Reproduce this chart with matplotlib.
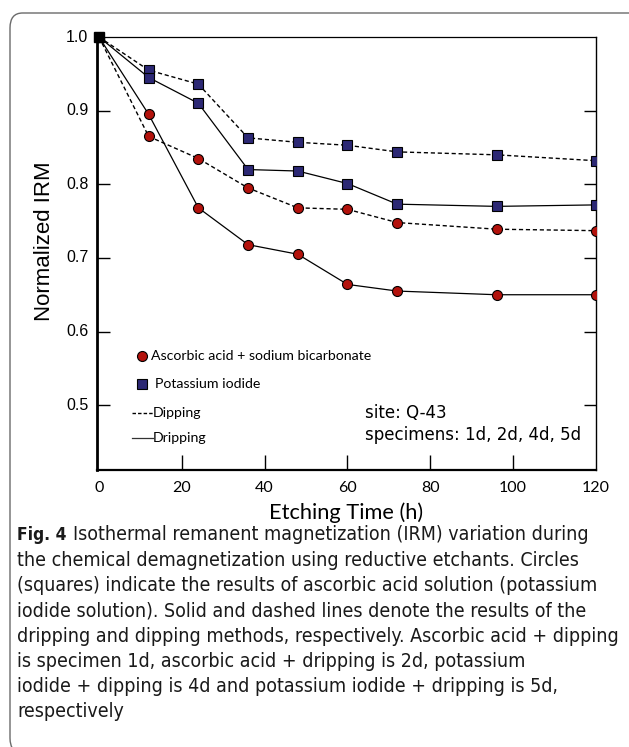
import matplotlib
matplotlib.use('Agg')
import matplotlib.pyplot as plt
from matplotlib.patches import FancyBboxPatch

# etching times (h)
times = [0, 12, 24, 36, 48, 60, 72, 96, 120]
# normalized IRM per specimen
asc_dip = [1.0, 0.865, 0.835, 0.795, 0.768, 0.766, 0.748, 0.739, 0.737]   # 1d
asc_drip = [1.0, 0.895, 0.768, 0.718, 0.705, 0.664, 0.655, 0.650, 0.650]  # 2d
ki_dip = [1.0, 0.955, 0.936, 0.863, 0.857, 0.853, 0.844, 0.840, 0.832]    # 4d
ki_drip = [1.0, 0.945, 0.910, 0.820, 0.818, 0.801, 0.773, 0.770, 0.772]   # 5d

xticks = [0, 20, 40, 60, 80, 100, 120]
yticks = [0.5, 0.6, 0.7, 0.8, 0.9, 1.0]

caption = [
    "the chemical demagnetization using reductive etchants. Circles",
    "(squares) indicate the results of ascorbic acid solution (potassium",
    "iodide solution). Solid and dashed lines denote the results of the",
    "dripping and dipping methods, respectively. Ascorbic acid + dipping",
    "is specimen 1d, ascorbic acid + dripping is 2d, potassium",
    "iodide + dipping is 4d and potassium iodide + dripping is 5d,",
    "respectively",
]

RED = '#B3120C'
NAVY = '#2C2874'
W, H = 629, 747

fig = plt.figure(figsize=(W / 100, H / 100), dpi=100)
ax = fig.add_axes([97.3 / W, 1 - 470 / H, (596 - 97.3) / W, (470 - 37) / H])

dash = (0, (3, 2))
ax.plot(times, ki_dip, linestyle=dash, color='black', lw=1.0, marker='s', ms=6.8,
        mfc=NAVY, mec='black', mew=0.8, zorder=3)
ax.plot(times, ki_drip, linestyle='-', color='black', lw=0.9, marker='s', ms=6.8,
        mfc=NAVY, mec='black', mew=0.8, zorder=3)
ax.plot(times, asc_dip, linestyle=dash, color='black', lw=1.0, marker='o', ms=7.2,
        mfc=RED, mec='black', mew=0.8, zorder=3)
ax.plot(times, asc_drip, linestyle='-', color='black', lw=0.9, marker='o', ms=7.2,
        mfc=RED, mec='black', mew=0.8, zorder=3)
# common starting point drawn as a black square
ax.plot(times[0], ki_dip[0], marker='s', ms=7.2, color='black', zorder=4, clip_on=False)

ax.set_xlim(-0.4, 120)
ax.set_ylim(0.412, 1.0)
ax.set_xticks(xticks[1:-1])
ax.set_yticks(yticks[:-1])

ax.spines['left'].set_linewidth(2.0)
ax.spines['bottom'].set_linewidth(1.6)
ax.spines['top'].set_linewidth(0.9)
ax.spines['right'].set_linewidth(1.0)

ax.tick_params(axis='x', direction='in', length=11, width=1.0, labelbottom=False)
ax.tick_params(axis='y', direction='in', length=9, width=1.0, right=True,
               labelleft=False)

# tick labels drawn as text so the two axes can use different fonts
for xv in xticks:
    ax.text(xv, -0.025, str(xv), transform=ax.get_xaxis_transform(), ha='center', va='top',
            fontsize=11.5, family='Lato')
for yv in yticks:
    ax.text(-0.018, yv, f"{yv:.1f}", transform=ax.get_yaxis_transform(), ha='right',
            va='center', fontsize=11.5, family='Liberation Sans')

fig.text(346 / W, 1 - 513 / H, "Etching Time (h)", ha='center', va='center',
         fontsize=15.7, family='Lato')
fig.text(45 / W, 1 - 241 / H, "Normalized IRM", ha='center', va='center',
         rotation=90, fontsize=16, family='Liberation Sans')

# manual legend
def axpt(px, py):
    return (px - 97.3) / (596 - 97.3), (470 - py) / (470 - 37)

lg = dict(fontsize=10.2, family='Lato', va='center', ha='left', transform=ax.transAxes)
x, y = axpt(141.5, 356)
ax.plot([x], [y], 'o', ms=7.2, mfc=RED, mec='black', mew=0.8, transform=ax.transAxes)
ax.text(*axpt(151, 356), "Ascorbic acid + sodium bicarbonate", **lg)
x, y = axpt(142, 384)
ax.plot([x], [y], 's', ms=6.5, mfc=NAVY, mec='black', mew=0.8, transform=ax.transAxes)
ax.text(*axpt(155, 384), "Potassium iodide", **lg)
x0, y0 = axpt(132, 413)
x1, _ = axpt(153, 413)
ax.plot([x0, x1], [y0, y0], linestyle=(0, (2.5, 1.5)), color='black', lw=1.0,
        transform=ax.transAxes)
ax.text(*axpt(153, 413), "Dipping", **lg)
x0, y0 = axpt(132, 438)
x1, _ = axpt(153, 438)
ax.plot([x0, x1], [y0, y0], '-', color='#333333', lw=0.9, transform=ax.transAxes)
ax.text(*axpt(153, 438), "Dripping", **lg)

ax.text(*axpt(365, 413), "site: Q-43", fontsize=12, family='DejaVu Sans', va='center',
        transform=ax.transAxes)
ax.text(*axpt(365, 435), "specimens: 1d, 2d, 4d, 5d", fontsize=12, family='DejaVu Sans',
        va='center', transform=ax.transAxes)

# caption
cap = dict(fontsize=14, family='DejaVu Sans', stretch='condensed', va='center',
           ha='left', color='#1a1a1a')
fig.text(17 / W, 1 - 535 / H, "Fig. 4", fontweight='bold',
         **{**cap, 'fontsize': 12.5})
fig.text(73 / W, 1 - 535 / H, "Isothermal remanent magnetization (IRM) variation during", **cap)
for i, line in enumerate(caption):
    fig.text(17 / W, 1 - (560.5 + 25.2 * i) / H, line, **cap)

# rounded frame around figure + caption
frame = FancyBboxPatch((10 / W, -6 / H), 640 / W, (H + 6 - 13) / H,
                       boxstyle="round,pad=0,rounding_size=0.02",
                       transform=fig.transFigure, fill=False, edgecolor='#6b6b6b',
                       lw=1.0, clip_on=False)
fig.patches.append(frame)

fig.savefig('out.png', dpi=100, facecolor='white')
